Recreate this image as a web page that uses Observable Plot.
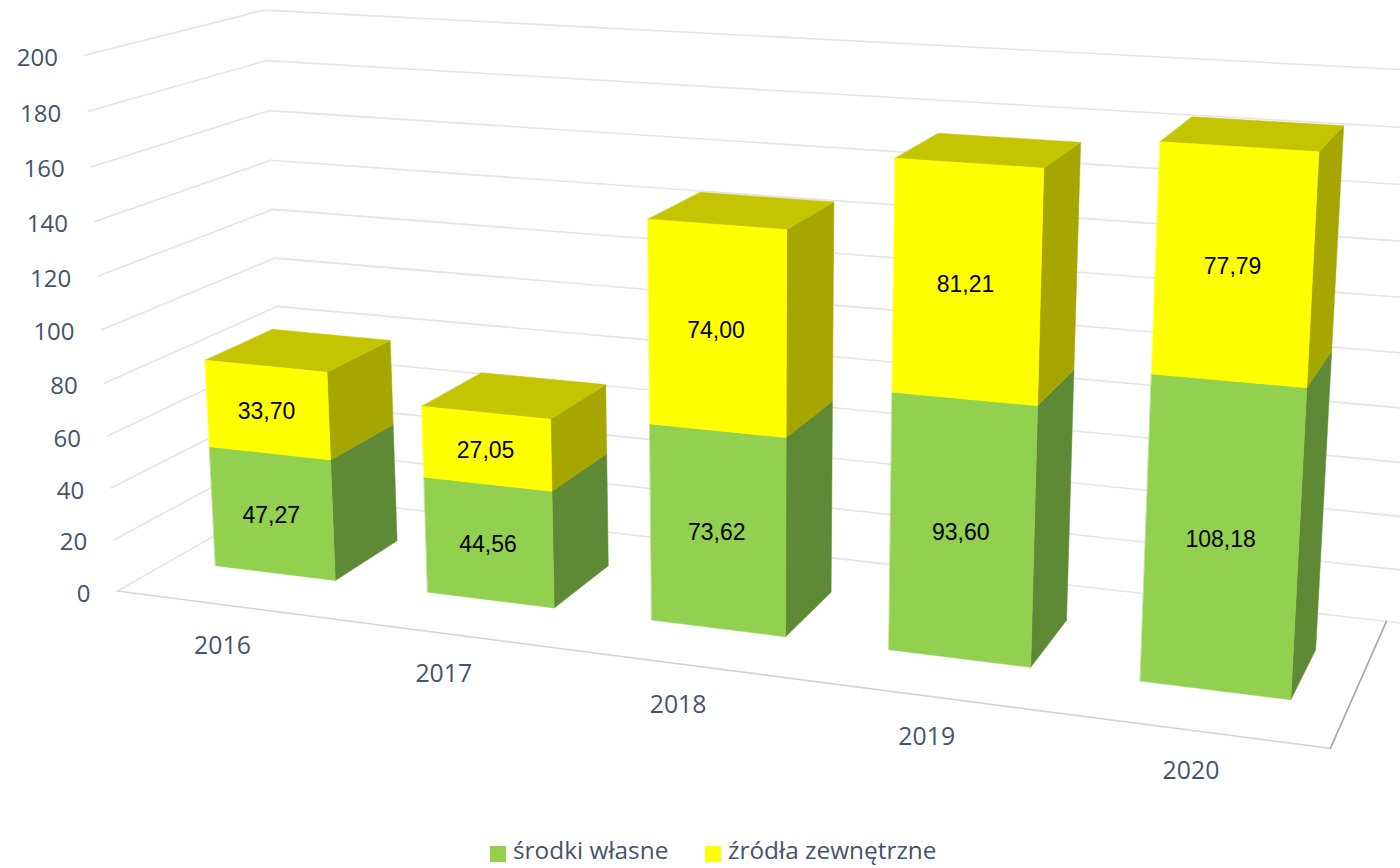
<!DOCTYPE html>
<html><head><meta charset="utf-8">
<script src="https://cdn.jsdelivr.net/npm/d3@7"></script>
<script src="https://cdn.jsdelivr.net/npm/@observablehq/plot@0.6"></script>
<style>
html,body{margin:0;padding:0;background:#fff;overflow:hidden}
#legend{position:relative;height:38px;font:24.4px "Open Sans",sans-serif;color:#44546a}
#legend span{position:absolute;white-space:nowrap;line-height:34px;top:3px}
#legend i{position:absolute;width:16px;height:16px;top:16px}
</style></head><body>
<div id="chart"></div>
<div id="legend"><i style="left:490px;background:#92d050"></i><span style="left:513px">środki własne</span><i style="left:705px;background:#ffff00"></i><span style="left:728px">źródła zewnętrzne</span></div>
<script>
const years=["2016","2017","2018","2019","2020"];
const own=[47.27,44.56,73.62,93.60,108.18];
const ext=[33.70,27.05,74.00,81.21,77.79];
const ownLabels=["47,27","44,56","73,62","93,60","108,18"];
const extLabels=["33,70","27,05","74,00","81,21","77,79"];
const ticks=[0,20,40,60,80,100,120,140,160,180,200];
// bar footprint inside one category cell (gap width 75 %, gap depth 150 %)
const gapX=3/14, zF=.3, zB=.7;
// camera of the 3D chart: (category, value/100, depth) -> page pixels / 1000
const P=[0.20601,-0.01831,0.19924,0.11691,0.01089,-0.26923,-0.04190,0.59054,-0.02751,-0.02422,0.10888];
function proj(X,V,Z){const Y=V/100;const w=P[8]*X+P[9]*Y+P[10]*Z+1;return [1000*(P[0]*X+P[1]*Y+P[2]*Z+P[3])/w,1000*(P[4]*X+P[5]*Y+P[6]*Z+P[7])/w];}
const seg=[];let sid=0;
function addSeg(a,b,color){const id=sid++;for(const p of [a,b]){const [x,y]=proj(...p);seg.push({id,x,y,color});}}
for(const v of ticks){addSeg([0,v,0],[0,v,1],"#e3e4e6");addSeg([0,v,1],[5.3,v,1],"#e3e4e6");}
addSeg([0,0,0],[5,0,0],"#d4d4d8");addSeg([5,0,0],[5,0,1],"#a6a6a6");
const faces=[];let fid=0;
function face(pts,color){const id=fid++;for(const p of pts){const [x,y]=proj(...p);faces.push({id,x,y,color});}}
years.forEach((_,i)=>{
 const x0=i+gapX,x1=i+1-gapX;
 const box=(lo,hi,front,side,top)=>{
  face([[x1,lo,zF],[x1,lo,zB],[x1,hi,zB],[x1,hi,zF]],side);
  if(top)face([[x0,hi,zF],[x1,hi,zF],[x1,hi,zB],[x0,hi,zB]],top);
  face([[x0,lo,zF],[x1,lo,zF],[x1,hi,zF],[x0,hi,zF]],front);
 };
 box(0,own[i],"#92d050","#5f8a35");
 box(own[i],own[i]+ext[i],"#ffff00","#a6a600","#c4c400");
});
const tickData=ticks.map(v=>{const [x,y]=proj(0,v,0);return {x,y,t:String(v)};});
const yearData=years.map((t,i)=>{const [x,y]=proj(i+.5,0,0);return {x,y,t};});
const barLabels=years.flatMap((_,i)=>{
 const a=proj(i+.5,own[i]/2,zF),b=proj(i+.5,own[i]+ext[i]/2,zF);
 return [{x:a[0],y:a[1],t:ownLabels[i]},{x:b[0],y:b[1],t:extLabels[i]}];});
const W=1400,H=830;
const plot=Plot.plot({width:W,height:H,margin:0,
 x:{domain:[0,W],range:[0,W],axis:null},y:{domain:[0,H],range:[0,H],axis:null},
 color:{type:"identity"},
 marks:[
  Plot.line(seg,{x:"x",y:"y",z:"id",stroke:"color",strokeWidth:1.6}),
  Plot.line(faces,{x:"x",y:"y",z:"id",fill:"color",stroke:"color",strokeWidth:.5,curve:"linear-closed"}),
  Plot.text(tickData,{x:"x",y:"y",text:"t",textAnchor:"end",dx:-27,dy:3,fontSize:24,fontFamily:"Open Sans",fill:"#44546a"}),
  Plot.text(yearData,{x:"x",y:"y",text:"t",dx:-1,dy:41,fontSize:24.8,fontFamily:"Open Sans",fill:"#44546a"}),
  Plot.text(barLabels,{x:"x",y:"y",text:"t",dx:-1,dy:2,fontSize:23,fontFamily:"Liberation Sans",fill:"#000"})
 ]});
document.getElementById("chart").append(plot);
</script></body></html>
